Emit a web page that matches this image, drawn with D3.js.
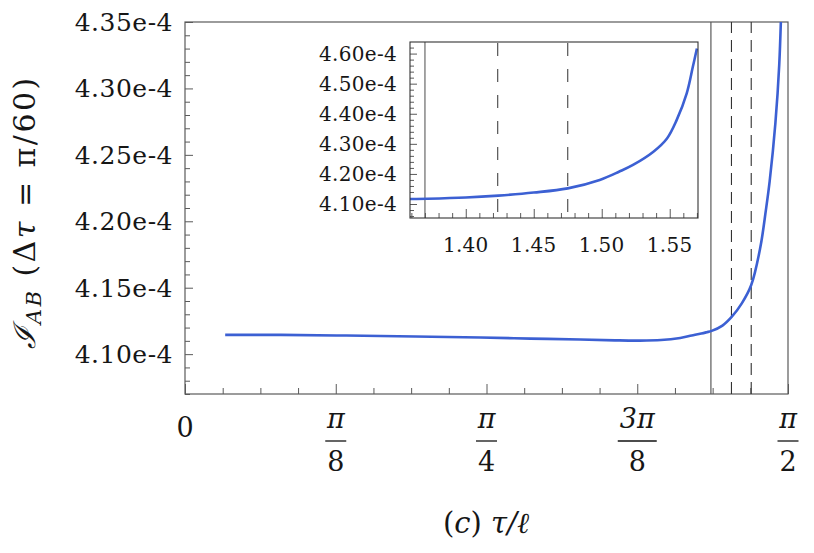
<!DOCTYPE html>
<html>
<head>
<meta charset="utf-8">
<script src="https://cdn.jsdelivr.net/npm/d3@7"></script>
<style>
  body { margin: 0; background: #fff; }
  svg { display: block; }
  text { font-family: 'DejaVu Serif', serif; fill: #161616; }
</style>
</head>
<body>
<div id="chart"></div>
<script>
// curve: tau/l and I_AB
var tauVals = [0.1047, 0.25, 0.42, 0.60, 0.77, 0.90, 1.03, 1.12, 1.18, 1.24, 1.29, 1.32, 1.345, 1.359, 1.372, 1.40, 1.424, 1.45, 1.475, 1.4985, 1.513, 1.523, 1.538, 1.548, 1.555, 1.5625, 1.567, 1.570]
var iabVals = [4.1145, 4.1145, 4.1140, 4.1133, 4.1125, 4.1117, 4.1110, 4.1104, 4.1102, 4.1106, 4.1122, 4.1140, 4.1155, 4.1165, 4.1175, 4.1215, 4.1280, 4.1380, 4.1520, 4.1800, 4.2080, 4.2300, 4.2740, 4.3180, 4.3780, 4.4680, 4.5560, 4.6170].map(function (v) { return v * 1e-4 })

var solidLine = 1.370
var dashedLines = [1.4235, 1.475]

var xMajor = [0, Math.PI / 8, Math.PI / 4, 3 * Math.PI / 8, Math.PI / 2]
var xNum = ['0', 'π', 'π', '3π', 'π']
var xDen = ['', '8', '4', '8', '2']

var yMajor = [4.10e-4, 4.15e-4, 4.20e-4, 4.25e-4, 4.30e-4, 4.35e-4]
var yLabels = ['4.10e-4', '4.15e-4', '4.20e-4', '4.25e-4', '4.30e-4', '4.35e-4']

var insetXMajor = [1.40, 1.45, 1.50, 1.55]
var insetXLabels = ['1.40', '1.45', '1.50', '1.55']
var insetYMajor = [4.10e-4, 4.20e-4, 4.30e-4, 4.40e-4, 4.50e-4, 4.60e-4]
var insetYLabels = ['4.10e-4', '4.20e-4', '4.30e-4', '4.40e-4', '4.50e-4', '4.60e-4']

var width = 814
var height = 553
var frameColor = '#5a5a5a'
var curveColor = '#3c60d3'

var data = tauVals.map(function (t, i) { return { t: t, v: iabVals[i] } })

var svg = d3.select('#chart').append('svg')
  .attr('width', width)
  .attr('height', height)

// main plot
var x = d3.scaleLinear().domain([0, Math.PI / 2]).range([185, 788])
var y = d3.scaleLinear().domain([4.07e-4, 4.35e-4]).range([394, 22])

var defs = svg.append('defs')
defs.append('clipPath').attr('id', 'mainClip')
  .append('rect')
  .attr('x', x(0)).attr('y', y(4.35e-4))
  .attr('width', x(Math.PI / 2) - x(0))
  .attr('height', y(4.07e-4) - y(4.35e-4))

var minorX = d3.range(1, 16).map(function (k) { return k * Math.PI / 32 }).filter(function (k, i) { return (i + 1) % 4 !== 0 })
var minorY = d3.range(407, 435).map(function (k) { return k * 1e-6 }).filter(function (k, i) { return (i + 407) % 5 !== 0 })

function tickAxis (g, axis) {
  g.call(axis)
  g.select('.domain').remove()
  g.selectAll('line').attr('stroke', frameColor)
}

svg.append('g').attr('transform', 'translate(0,' + y.range()[0] + ')')
  .call(tickAxis, d3.axisBottom(x).tickValues(xMajor).tickSize(-10).tickFormat(''))
svg.append('g').attr('transform', 'translate(0,' + y.range()[0] + ')')
  .call(tickAxis, d3.axisBottom(x).tickValues(minorX).tickSize(-6).tickFormat(''))
svg.append('g').attr('transform', 'translate(' + x.range()[0] + ',0)')
  .call(tickAxis, d3.axisLeft(y).tickValues(yMajor).tickSize(-8).tickFormat(''))
svg.append('g').attr('transform', 'translate(' + x.range()[0] + ',0)')
  .call(tickAxis, d3.axisLeft(y).tickValues(minorY).tickSize(-5).tickFormat(''))

svg.append('rect')
  .attr('x', x(0)).attr('y', y(4.35e-4))
  .attr('width', x(Math.PI / 2) - x(0))
  .attr('height', y(4.07e-4) - y(4.35e-4))
  .attr('fill', 'none')
  .attr('stroke', frameColor)
  .attr('stroke-width', 1.2)

// vertical markers
svg.append('line')
  .attr('x1', x(solidLine)).attr('x2', x(solidLine))
  .attr('y1', y.range()[0]).attr('y2', y.range()[1])
  .attr('stroke', frameColor).attr('stroke-width', 1.2)
svg.selectAll('line.dash').data(dashedLines).enter().append('line')
  .attr('class', 'dash')
  .attr('x1', function (d) { return x(d) }).attr('x2', function (d) { return x(d) })
  .attr('y1', y.range()[0]).attr('y2', y.range()[1])
  .attr('stroke', '#333').attr('stroke-width', 1.1)
  .attr('stroke-dasharray', '12,7')

var line = d3.line()
  .x(function (d) { return x(d.t) })
  .y(function (d) { return y(d.v) })
  .curve(d3.curveCatmullRom.alpha(0.5))

svg.append('path')
  .datum(data)
  .attr('clip-path', 'url(#mainClip)')
  .attr('d', line)
  .attr('fill', 'none')
  .attr('stroke', curveColor)
  .attr('stroke-width', 2.6)

// y tick labels
svg.selectAll('text.ylab').data(yMajor).enter().append('text')
  .attr('class', 'ylab')
  .attr('x', 173)
  .attr('y', function (d) { return y(d) })
  .attr('dy', '0.36em')
  .attr('text-anchor', 'end')
  .style('font-size', '25px')
  .style('letter-spacing', '0.5px')
  .text(function (d, i) { return yLabels[i] })

// x tick labels as fractions
var xl = svg.selectAll('g.xlab').data(xMajor).enter().append('g')
  .attr('class', 'xlab')
  .attr('transform', function (d) { return 'translate(' + x(d) + ',0)' })
xl.each(function (d, i) {
  var g = d3.select(this)
  if (!xDen[i]) {
    g.append('text').attr('y', 427).attr('dy', '0.36em').attr('text-anchor', 'middle')
      .style('font-size', '27px').text(xNum[i])
    return
  }
  g.append('text').attr('y', 418).attr('dy', '0.36em').attr('text-anchor', 'middle')
    .style('font-size', '27px').style('font-style', 'italic').text(xNum[i])
  var w = xNum[i].length > 1 ? 39 : 21
  g.append('line').attr('x1', -w / 2).attr('x2', w / 2).attr('y1', 441).attr('y2', 441)
    .attr('stroke', '#111').attr('stroke-width', 1.3)
  g.append('text').attr('y', 461).attr('dy', '0.36em').attr('text-anchor', 'middle')
    .style('font-size', '27px').text(xDen[i])
})

// axis titles
var yt = svg.append('text')
  .attr('transform', 'translate(24,' + 212 + ') rotate(-90)')
  .attr('text-anchor', 'middle')
  .attr('dy', '0.36em')
  .style('font-size', '30px')
  .style('letter-spacing', '2.5px')
yt.append('tspan').style('font-style', 'italic').text('ℐ')
yt.append('tspan').style('font-style', 'italic').style('font-size', '21px').attr('dy', 6).text('AB')
yt.append('tspan').attr('dy', -6).text('  (Δ')
yt.append('tspan').style('font-style', 'italic').text('τ')
yt.append('tspan').text(' = π/60)')

var xt = svg.append('text')
  .attr('x', 486).attr('y', 523).attr('dy', '0.36em')
  .attr('text-anchor', 'middle')
  .style('font-size', '29px')
xt.append('tspan').text('(')
xt.append('tspan').style('font-style', 'italic').text('c')
xt.append('tspan').text(') ')
xt.append('tspan').style('font-style', 'italic').text('τ/ℓ')

// inset
var xi = d3.scaleLinear().domain([1.359, Math.PI / 2]).range([410, 698])
var yi = d3.scaleLinear().domain([4.0535e-4, 4.6385e-4]).range([218, 42])

defs.append('clipPath').attr('id', 'insetClip')
  .append('rect')
  .attr('x', xi.range()[0]).attr('y', yi.range()[1])
  .attr('width', xi.range()[1] - xi.range()[0])
  .attr('height', yi.range()[0] - yi.range()[1])

svg.append('rect')
  .attr('x', xi.range()[0]).attr('y', yi.range()[1])
  .attr('width', xi.range()[1] - xi.range()[0])
  .attr('height', yi.range()[0] - yi.range()[1])
  .attr('fill', '#fff')

var insetMinorX = d3.range(136, 158).map(function (k) { return k / 100 }).filter(function (k, i) { return (i + 136) % 5 !== 0 })
var insetMinorY = d3.range(203, 232).map(function (k) { return k * 2e-6 }).filter(function (k, i) { return (i + 203) % 5 !== 0 })

svg.append('g').attr('transform', 'translate(0,' + yi.range()[0] + ')')
  .call(tickAxis, d3.axisBottom(xi).tickValues(insetXMajor).tickSize(-9).tickFormat(''))
svg.append('g').attr('transform', 'translate(0,' + yi.range()[0] + ')')
  .call(tickAxis, d3.axisBottom(xi).tickValues(insetMinorX).tickSize(-5).tickFormat(''))
svg.append('g').attr('transform', 'translate(' + xi.range()[0] + ',0)')
  .call(tickAxis, d3.axisLeft(yi).tickValues(insetYMajor).tickSize(-7).tickFormat(''))
svg.append('g').attr('transform', 'translate(' + xi.range()[0] + ',0)')
  .call(tickAxis, d3.axisLeft(yi).tickValues(insetMinorY).tickSize(-4).tickFormat(''))

svg.append('line')
  .attr('x1', xi(solidLine)).attr('x2', xi(solidLine))
  .attr('y1', yi.range()[0]).attr('y2', yi.range()[1])
  .attr('stroke', frameColor).attr('stroke-width', 1.1)
svg.selectAll('line.idash').data(dashedLines).enter().append('line')
  .attr('class', 'idash')
  .attr('x1', function (d) { return xi(d) }).attr('x2', function (d) { return xi(d) })
  .attr('y1', yi.range()[0]).attr('y2', yi.range()[1])
  .attr('stroke', '#444').attr('stroke-width', 1.1)
  .attr('stroke-dasharray', '13,13')
  .attr('stroke-dashoffset', -6)

var lineInset = d3.line()
  .x(function (d) { return xi(d.t) })
  .y(function (d) { return yi(d.v) })
  .curve(d3.curveCatmullRom.alpha(0.5))

svg.append('path')
  .datum(data.filter(function (d) { return d.t >= 1.345 }))
  .attr('clip-path', 'url(#insetClip)')
  .attr('d', lineInset)
  .attr('fill', 'none')
  .attr('stroke', curveColor)
  .attr('stroke-width', 2.6)

svg.append('rect')
  .attr('x', xi.range()[0]).attr('y', yi.range()[1])
  .attr('width', xi.range()[1] - xi.range()[0])
  .attr('height', yi.range()[0] - yi.range()[1])
  .attr('fill', 'none')
  .attr('stroke', '#333')
  .attr('stroke-width', 1.1)

svg.selectAll('text.iylab').data(insetYMajor).enter().append('text')
  .attr('class', 'iylab')
  .attr('x', 397)
  .attr('y', function (d) { return yi(d) })
  .attr('dy', '0.36em')
  .attr('text-anchor', 'end')
  .style('font-size', '20px')
  .style('letter-spacing', '0.3px')
  .text(function (d, i) { return insetYLabels[i] })

svg.selectAll('text.ixlab').data(insetXMajor).enter().append('text')
  .attr('class', 'ixlab')
  .attr('x', function (d) { return xi(d) })
  .attr('y', 245)
  .attr('dy', '0.36em')
  .attr('text-anchor', 'middle')
  .style('font-size', '20px')
  .style('letter-spacing', '0.3px')
  .text(function (d, i) { return insetXLabels[i] })
</script>
</body>
</html>
